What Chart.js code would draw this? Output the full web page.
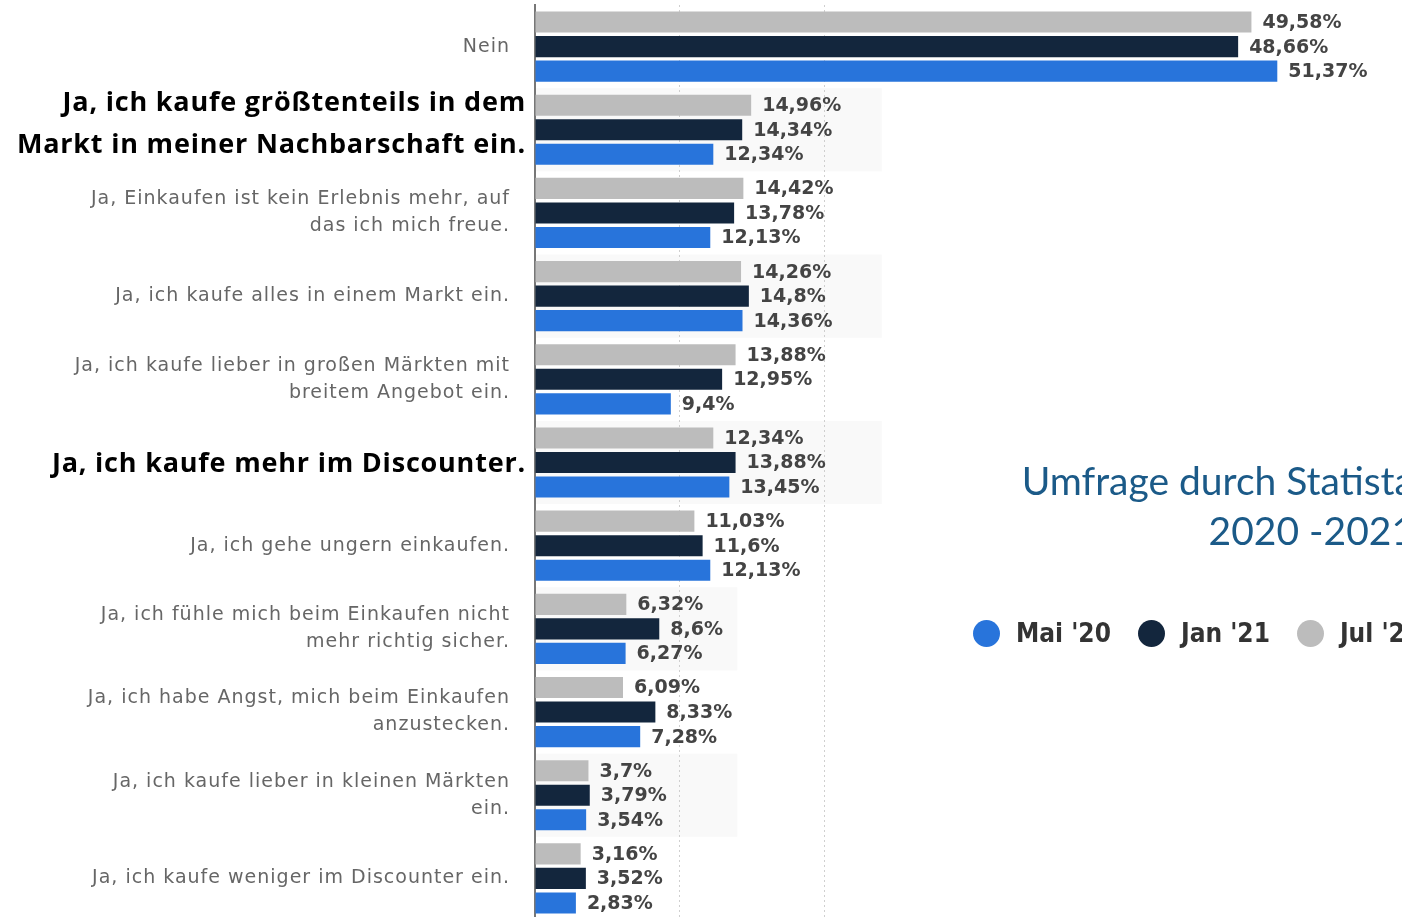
<!DOCTYPE html>
<html>
<head>
<meta charset="utf-8">
<script src="https://cdn.jsdelivr.net/npm/chart.js@4"></script>
<style>
  html, body { margin: 0; padding: 0; background: #fff; overflow: hidden; width: 1402px; height: 917px; }
  #wrap { position: absolute; left: 0; top: 0; width: 1402px; height: 925px; }
  #title {
    position: absolute; right: -12px; top: 455px; text-align: right;
    font-family: Lato, sans-serif; font-size: 39px; line-height: 50px; color: #1b5a88;
    white-space: nowrap;
  }
  #legend { position: absolute; left: 973px; top: 618px; display: flex; align-items: center; white-space: nowrap; }
  .item { display: flex; align-items: center; margin-right: 27px; }
  .dot { width: 27px; height: 27px; border-radius: 50%; margin-right: 16px; }
  .item span { font-family: "DejaVu Sans Condensed", "DejaVu Sans", sans-serif; font-weight: bold; font-size: 26px; color: #333; }
</style>
</head>
<body>
<div id="wrap"><canvas id="umfrageChart"></canvas></div>
<div id="title">Umfrage durch Statista<br>2020 -2021</div>
<div id="legend"></div>
<script>
(() => {
    const categories = [
        ['Nein'],
        ['Ja, ich kaufe größtenteils in dem', 'Markt in meiner Nachbarschaft ein.'],
        ['Ja, Einkaufen ist kein Erlebnis mehr, auf', 'das ich mich freue.'],
        ['Ja, ich kaufe alles in einem Markt ein.'],
        ['Ja, ich kaufe lieber in großen Märkten mit', 'breitem Angebot ein.'],
        ['Ja, ich kaufe mehr im Discounter.'],
        ['Ja, ich gehe ungern einkaufen.'],
        ['Ja, ich fühle mich beim Einkaufen nicht', 'mehr richtig sicher.'],
        ['Ja, ich habe Angst, mich beim Einkaufen', 'anzustecken.'],
        ['Ja, ich kaufe lieber in kleinen Märkten', 'ein.'],
        ['Ja, ich kaufe weniger im Discounter ein.']
    ];
    const highlighted = [1, 5]; // fett hervorgehobene Antworten

    const jul21 = [49.58, 14.96, 14.42, 14.26, 13.88, 12.34, 11.03, 6.32, 6.09, 3.7, 3.16];
    const jan21 = [48.66, 14.34, 13.78, 14.8, 12.95, 13.88, 11.6, 8.6, 8.33, 3.79, 3.52];
    const mai20 = [51.37, 12.34, 12.13, 14.36, 9.4, 13.45, 12.13, 6.27, 7.28, 3.54, 2.83];

    const seriesNames = ["Mai '20", "Jan '21", "Jul '21"];
    const seriesColors = ['#2874db', '#13263d', '#bcbcbc'];

    const xTicks = [10, 20]; // sichtbare Hilfslinien

    // Legende (HTML)
    const legend = document.getElementById('legend');
    seriesNames.forEach((name, i) => {
        const item = document.createElement('div');
        item.className = 'item';
        item.innerHTML = '<div class="dot" style="background:' + seriesColors[i] + '"></div><span>' + name + '</span>';
        legend.appendChild(item);
    });

    // leichte Hintergrundstreifen hinter einzelnen Gruppen
    const bandPlugin = {
        id: 'bands',
        beforeDraw(chart) {
            const { ctx, chartArea, scales: { x, y } } = chart;
            const step = y.getPixelForValue(1) - y.getPixelForValue(0);
            const bands = [[1, 24], [3, 24], [5, 24], [7, 14], [9, 14]];
            ctx.save();
            ctx.fillStyle = '#f9f9f9';
            bands.forEach(([i, to]) => {
                const cy = y.getPixelForValue(i);
                ctx.fillRect(chartArea.left, cy - step / 2, x.getPixelForValue(to) - chartArea.left, step);
            });
            ctx.restore();
        }
    };

    // Kategorien links + Werte rechts neben den Balken
    const labelPlugin = {
        id: 'labels',
        afterDatasetsDraw(chart) {
            const { ctx, chartArea, scales: { y } } = chart;
            ctx.save();
            ctx.textBaseline = 'middle';
            categories.forEach((lines, i) => {
                const cy = y.getPixelForValue(i);
                ctx.textAlign = 'right';
                if (highlighted.includes(i)) {
                    ctx.font = 'bold 27px "Open Sans", sans-serif';
                    ctx.letterSpacing = '0.8px';
                    ctx.fillStyle = '#000';
                    const lh = 42;
                    const start = cy + 2 - (lines.length - 1) * lh / 2 - (lines.length > 1 ? 7 : 0);
                    lines.forEach((t, k) => ctx.fillText(t, chartArea.left - 9, start + k * lh));
                } else {
                    ctx.font = '19px "DejaVu Sans", sans-serif';
                    ctx.letterSpacing = '1px';
                    ctx.fillStyle = '#666';
                    const lh = 27;
                    const start = cy - (lines.length - 1) * lh / 2;
                    lines.forEach((t, k) => ctx.fillText(t, chartArea.left - 25, start + k * lh));
                }
            });
            ctx.letterSpacing = '0px';
            ctx.font = 'bold 19px "DejaVu Sans", sans-serif';
            ctx.fillStyle = '#444';
            ctx.textAlign = 'left';
            chart.data.datasets.forEach((ds, d) => {
                chart.getDatasetMeta(d).data.forEach((bar, i) => {
                    const txt = String(ds.data[i]).replace('.', ',') + '%';
                    ctx.fillText(txt, bar.x + 11, bar.y + 1);
                });
            });
            ctx.restore();
        }
    };

    const ctx = document.getElementById('umfrageChart').getContext('2d');
    new Chart(ctx, {
        type: 'bar',
        data: {
            labels: categories,
            datasets: [
                { label: seriesNames[2], data: jul21, backgroundColor: seriesColors[2] },
                { label: seriesNames[1], data: jan21, backgroundColor: seriesColors[1] },
                { label: seriesNames[0], data: mai20, backgroundColor: seriesColors[0] }
            ]
        },
        options: {
            indexAxis: 'y',
            responsive: true,
            maintainAspectRatio: false,
            animation: false,
            datasets: {
                bar: { categoryPercentage: 0.885, barPercentage: 0.86 }
            },
            layout: { padding: { left: 535, top: 5, right: 0, bottom: 5 } },
            plugins: {
                legend: { display: false },
                tooltip: { enabled: false }
            },
            scales: {
                x: {
                    min: 0,
                    max: 60,
                    ticks: { display: false, stepSize: 10 },
                    grid: {
                        drawTicks: false,
                        color: (c) => xTicks.includes(c.tick && c.tick.value) ? '#cfcfcf' : 'rgba(0,0,0,0)'
                    },
                    border: { display: false, dash: [2, 3] }
                },
                y: {
                    ticks: { display: false },
                    grid: { display: false, drawTicks: false },
                    border: { display: true, color: '#777', width: 2 }
                }
            }
        },
        plugins: [bandPlugin, labelPlugin]
    });
})();
</script>
</body>
</html>
